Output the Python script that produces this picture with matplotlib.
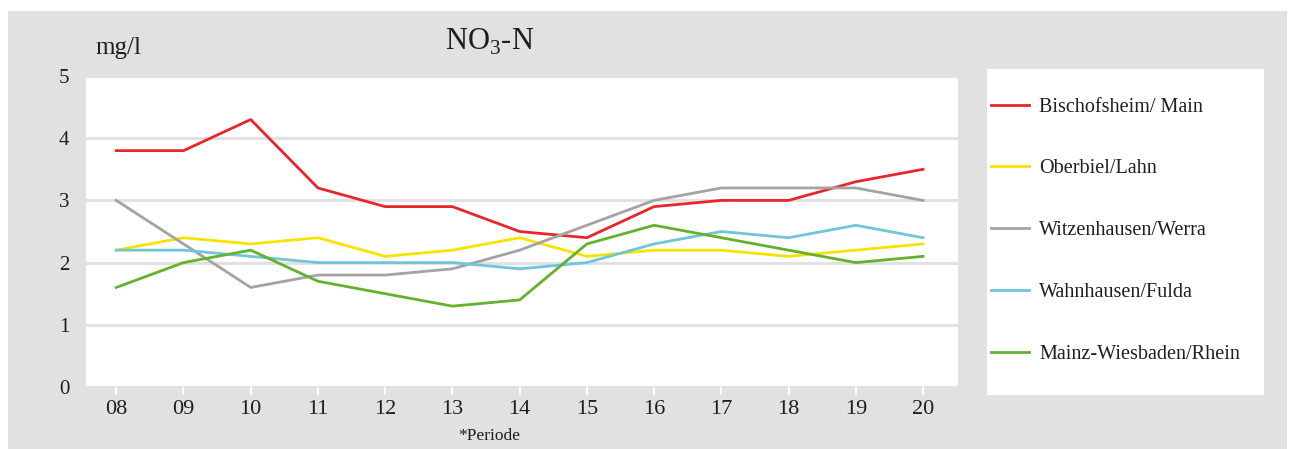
import numpy as np
import matplotlib
matplotlib.use("Agg")
import matplotlib.pyplot as plt
from matplotlib.patches import Rectangle

plt.rcParams['font.family'] = ['Liberation Serif', 'DejaVu Serif']
plt.rcParams['mathtext.fontset'] = 'custom'
plt.rcParams['mathtext.rm'] = 'Liberation Serif'

# data
perioden = ["08", "09", "10", "11", "12", "13", "14", "15", "16", "17", "18", "19", "20"]
bischofsheim = [3.8, 3.8, 4.3, 3.2, 2.9, 2.9, 2.5, 2.4, 2.9, 3.0, 3.0, 3.3, 3.5]
oberbiel = [2.2, 2.4, 2.3, 2.4, 2.1, 2.2, 2.4, 2.1, 2.2, 2.2, 2.1, 2.2, 2.3]
witzenhausen = [3.0, 2.3, 1.6, 1.8, 1.8, 1.9, 2.2, 2.6, 3.0, 3.2, 3.2, 3.2, 3.0]
wahnhausen = [2.2, 2.2, 2.1, 2.0, 2.0, 2.0, 1.9, 2.0, 2.3, 2.5, 2.4, 2.6, 2.4]
mainz = [1.6, 2.0, 2.2, 1.7, 1.5, 1.3, 1.4, 2.3, 2.6, 2.4, 2.2, 2.0, 2.1]

series = [
    ("Bischofsheim/ Main", bischofsheim, "#e8262a"),
    ("Oberbiel/Lahn", oberbiel, "#f8e300"),
    ("Witzenhausen/Werra", witzenhausen, "#a3a3a3"),
    ("Wahnhausen/Fulda", wahnhausen, "#6fc6d8"),
    ("Mainz-Wiesbaden/Rhein", mainz, "#63b22e"),
]

bg = "#e1e1e1"
txt = "#1e1e1e"

fig = plt.figure(figsize=(12.9, 4.49), dpi=100)
fig.patch.set_facecolor("white")
fig.patches.append(Rectangle((8/1290, 0), 1279/1290, 438/449, transform=fig.transFigure,
                             facecolor=bg, edgecolor="none", zorder=-10))

ax = fig.add_axes([86/1290, 1-387/449, (958-86)/1290, (387-76)/449])
ax.set_facecolor("white")
x = np.arange(len(perioden))
for name, vals, col in series:
    ax.plot(x, vals, color=col, lw=2.0, label=name, zorder=3)

ax.set_ylim(0, 5)
ax.set_xlim(-0.45, 12.52)
ax.set_yticks([0, 1, 2, 3, 4, 5])
ax.set_xticks(x)
ax.set_xticklabels(perioden)
ax.yaxis.grid(True, color=bg, lw=2.2)
ax.set_axisbelow(True)
for s in ax.spines.values():
    s.set_visible(False)
ax.tick_params(axis="y", length=0, pad=12, labelsize=15, labelcolor=txt)
ax.tick_params(axis="x", length=6, width=1.5, color="white", pad=3, labelsize=16, labelcolor=txt)

fig.text(490/1290, 1-42/449, r"NO$_3$-N", ha="center", va="center", fontsize=22, color=txt)
fig.text(95/1290, 1-48/449, "mg/l", ha="left", va="center", fontsize=18, color=txt)
fig.text(489/1290, 1-436/449, "*Periode", ha="center", va="center", fontsize=12.5, color=txt)

# legend panel
lax = fig.add_axes([987/1290, 1-395/449, (1264-987)/1290, (395-69)/449])
lax.set_facecolor("white")
lax.set_xticks([])
lax.set_yticks([])
for s in lax.spines.values():
    s.set_visible(False)
handles, labels = ax.get_legend_handles_labels()
leg = lax.legend(handles, labels, loc="upper left", bbox_to_anchor=(0.0, 0.925),
                 frameon=False, fontsize=14.5, handlelength=1.9, handletextpad=0.5,
                 labelspacing=2.12, borderaxespad=0.0, borderpad=0.2)
for t in leg.get_texts():
    t.set_color(txt)

fig.savefig("out.png", dpi=100)
